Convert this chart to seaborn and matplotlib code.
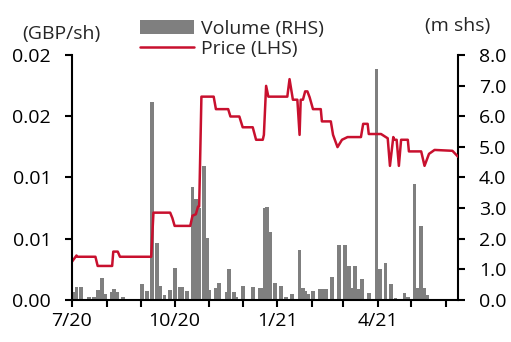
import pandas as pd
import seaborn as sns
import matplotlib.pyplot as plt
import matplotlib.dates as mdates
from matplotlib.patches import Patch
from matplotlib.lines import Line2D

# Share price (GBP/sh) - turning points of the daily line
price_dates = ["2020-07-01", "2020-07-05", "2020-07-06", "2020-07-22", "2020-07-24",
               "2020-08-06", "2020-08-07", "2020-08-11", "2020-08-13", "2020-09-10",
               "2020-09-12", "2020-09-27", "2020-09-29", "2020-10-01", "2020-10-15",
               "2020-10-17", "2020-10-20", "2020-10-22", "2020-10-23", "2020-10-25",
               "2020-11-05", "2020-11-07", "2020-11-18", "2020-11-20", "2020-11-28",
               "2020-12-01", "2020-12-10", "2020-12-13", "2020-12-19", "2020-12-20",
               "2020-12-22", "2020-12-24", "2021-01-10", "2021-01-12", "2021-01-15",
               "2021-01-19", "2021-01-21", "2021-01-22", "2021-01-24", "2021-01-26",
               "2021-01-28", "2021-01-30", "2021-02-02", "2021-02-09", "2021-02-10",
               "2021-02-18", "2021-02-20", "2021-02-24", "2021-02-28", "2021-03-05",
               "2021-03-17", "2021-03-19", "2021-03-23", "2021-03-24", "2021-04-04",
               "2021-04-10", "2021-04-12", "2021-04-15", "2021-04-16", "2021-04-18",
               "2021-04-20", "2021-04-22", "2021-04-28", "2021-04-29", "2021-05-10",
               "2021-05-13", "2021-05-17", "2021-05-22", "2021-06-07", "2021-06-12"]
price_gbp = [0.00313, 0.00363, 0.00353, 0.00353, 0.00278,
             0.00278, 0.00395, 0.00395, 0.00353, 0.00353,
             0.00713, 0.00713, 0.00668, 0.00605, 0.00605,
             0.00688, 0.00700, 0.00763, 0.00763, 0.01660,
             0.01660, 0.01558, 0.01558, 0.01498, 0.01498,
             0.01410, 0.01410, 0.01308, 0.01308, 0.01348,
             0.01748, 0.01660, 0.01660, 0.01803, 0.01635,
             0.01635, 0.01348, 0.01635, 0.01635, 0.01703,
             0.01703, 0.01655, 0.01558, 0.01558, 0.01458,
             0.01458, 0.01348, 0.01248, 0.01308, 0.01330,
             0.01330, 0.01438, 0.01438, 0.01355, 0.01355,
             0.01320, 0.01095, 0.01330, 0.01308, 0.01308,
             0.01095, 0.01308, 0.01308, 0.01213, 0.01213,
             0.01095, 0.01193, 0.01225, 0.01218, 0.01170]

# Daily traded volume (m shares)
vol_dates = ["2020-07-02", "2020-07-05", "2020-07-09", "2020-07-16", "2020-07-21",
             "2020-07-24", "2020-07-28", "2020-07-31", "2020-08-06", "2020-08-08",
             "2020-08-10", "2020-08-16", "2020-09-02", "2020-09-06", "2020-09-11",
             "2020-09-15", "2020-09-18", "2020-09-22", "2020-09-27", "2020-10-01",
             "2020-10-06", "2020-10-08", "2020-10-12", "2020-10-17", "2020-10-20",
             "2020-10-23", "2020-10-27", "2020-10-30", "2020-11-01", "2020-11-07",
             "2020-11-10", "2020-11-17", "2020-11-19", "2020-11-23", "2020-11-25",
             "2020-12-01", "2020-12-10", "2020-12-16", "2020-12-19", "2020-12-21",
             "2020-12-23", "2020-12-26", "2020-12-30", "2021-01-04", "2021-01-09",
             "2021-01-14", "2021-01-21", "2021-01-24", "2021-01-26", "2021-01-29",
             "2021-02-02", "2021-02-08", "2021-02-11", "2021-02-14", "2021-02-19",
             "2021-02-25", "2021-03-03", "2021-03-06", "2021-03-08", "2021-03-12",
             "2021-03-15", "2021-03-18", "2021-03-24", "2021-03-31", "2021-04-03",
             "2021-04-08", "2021-04-13", "2021-04-17", "2021-04-25", "2021-04-28",
             "2021-05-04", "2021-05-07", "2021-05-10", "2021-05-13", "2021-05-15"]
vol_m = [0.27, 0.44, 0.44, 0.10, 0.10,
         0.33, 0.71, 0.20, 0.25, 0.35,
         0.25, 0.10, 0.52, 0.30, 6.48,
         1.85, 0.45, 0.16, 0.33, 1.04,
         0.44, 0.44, 0.30, 3.68, 3.30,
         3.00, 4.36, 2.02, 0.33, 0.38,
         0.57, 0.27, 1.00, 0.27, 0.10,
         0.46, 0.42, 0.38, 0.38, 3.00,
         3.03, 2.23, 0.57, 0.46, 0.10,
         0.20, 1.63, 0.38, 0.30, 0.20,
         0.30, 0.35, 0.35, 0.35, 0.74,
         1.78, 1.78, 1.11, 0.38, 1.11,
         0.35, 0.68, 0.22, 7.54, 1.00,
         1.20, 0.52, 0.05, 0.24, 0.10,
         3.79, 0.38, 2.42, 0.38, 0.15]

left_ticks = [0, 0.005, 0.01, 0.015, 0.02]
left_labels = ["0.00", "0.01", "0.01", "0.02", "0.02"]
right_ticks = [0, 1, 2, 3, 4, 5, 6, 7, 8]

RED = "#c8102e"
GREY = "#7f7f7f"

price = pd.DataFrame({"date": pd.to_datetime(price_dates), "price": price_gbp})
vol = pd.DataFrame({"date": pd.to_datetime(vol_dates), "volume": vol_m})

sns.set_theme(style="ticks")
plt.rcParams["font.family"] = ["Open Sans", "DejaVu Sans"]
plt.rcParams["font.size"] = 14

fig = plt.figure(figsize=(5.11, 3.42), dpi=100)
ax = fig.add_axes([72 / 511, 1 - 300 / 342, (458 - 72) / 511, (300 - 55) / 342])
ax2 = ax.twinx()

# volume bars on the right axis, behind the price line
ax2.bar(vol["date"], vol["volume"], width=3.4, color=GREY, linewidth=0)
sns.lineplot(data=price, x="date", y="price", ax=ax, color=RED, linewidth=1.8)
ax.set_zorder(ax2.get_zorder() + 1)
ax.patch.set_visible(False)

ax.set_xlim(pd.Timestamp("2020-07-01"), pd.Timestamp("2021-06-12"))
ax.set_ylim(0, 0.02)
ax2.set_ylim(0, 8)
ax.set_yticks(left_ticks)
ax.set_yticklabels(left_labels)
ax2.set_yticks(right_ticks)
ax2.set_yticklabels([f"{t:.1f}" for t in right_ticks])

ax.xaxis.set_major_locator(mdates.MonthLocator(bymonth=[1, 4, 7, 10]))
ax.xaxis.set_minor_locator(mdates.MonthLocator())
ax.xaxis.set_major_formatter(plt.FuncFormatter(
    lambda v, p: f"{mdates.num2date(v).month}/{mdates.num2date(v):%y}"))
ax.set_xlabel("")
ax.set_ylabel("")

for a in (ax, ax2):
    for s in a.spines.values():
        s.set_linewidth(1.5)
        s.set_color("black")
    a.spines["top"].set_visible(False)
    a.tick_params(which="both", direction="out", length=5, width=1.5,
                  colors="black", labelsize=14, pad=10)
ax.spines["right"].set_visible(False)
ax2.spines["left"].set_visible(False)
ax2.spines["bottom"].set_visible(False)
ax.tick_params(axis="x", which="both", pad=4)

fig.text(61 / 511, 1 - 34 / 342, "(GBP/sh)", ha="center", va="center", fontsize=14)
fig.text(458 / 511, 1 - 26 / 342, "(m shs)", ha="center", va="center", fontsize=14)

handles = [Patch(facecolor=GREY, edgecolor="none"),
           Line2D([], [], color=RED, linewidth=1.8)]
fig.legend(handles, ["Volume (RHS)", "Price (LHS)"], loc="upper left",
           bbox_to_anchor=(130 / 511, 1 - 10 / 342), frameon=False, fontsize=14,
           handlelength=2.8, handleheight=0.7, handletextpad=0.35,
           labelspacing=0.1, borderpad=0)

fig.savefig("out.png", dpi=100)
